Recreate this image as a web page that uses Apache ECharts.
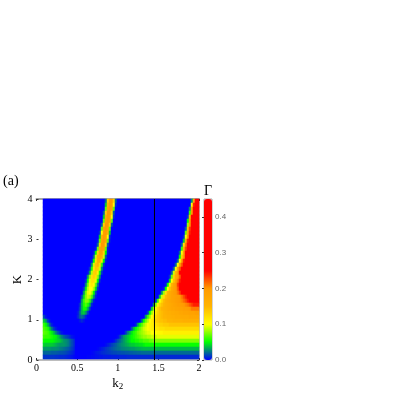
<!DOCTYPE html>
<html><head><meta charset="utf-8">
<style>html,body{margin:0;padding:0;background:#fff}#c{width:409px;height:400px}</style>
<script src="https://cdn.jsdelivr.net/npm/echarts@6/dist/echarts.min.js"></script>
</head><body><div id="c"></div>
<script>
// Heat-map cells. Rows run from the top (K=4) down; each
// entry is [row, first non-blue column, values...]; all other cells are 0.
const columnCount = 78;
const rowCount = 40;
const ridgeCells = [
[0,31,.02,.13,.2,.2,.13,.02],[1,31,.04,.16,.2,.19,.1,.01],[2,31,.07,.18,.2,.18,.07],[3,30,.02,.13,.2,.2,.13,.02],
[4,30,.04,.16,.2,.19,.1,.01],[5,30,.07,.18,.2,.18,.07],[6,29,.02,.13,.2,.2,.13,.02],[7,29,.07,.18,.2,.18,.07],
[8,28,.01,.1,.19,.2,.16,.04],[9,28,.04,.16,.2,.19,.1,.01],[10,27,.005,.07,.18,.2,.18,.07,.005],[11,27,.02,.13,.2,.2,.13,.02],
[12,26,.005,.07,.18,.19,.18,.07,.005],[13,25,.005,.05,.13,.18,.18,.13,.05,.005],[14,25,.02,.09,.16,.17,.16,.09,.02],
[15,24,.005,.05,.12,.16,.16,.12,.05,.005],[16,24,.03,.09,.14,.15,.125,.06,.012],[17,23,.01,.055,.115,.14,.135,.09,.03,.003],
[18,22,.003,.03,.085,.13,.135,.11,.055,.012],[19,22,.03,.08,.12,.13,.12,.08,.03],[20,21,.008,.05,.095,.12,.12,.095,.05,.008],
[21,21,.025,.07,.105,.115,.105,.07,.025],[22,20,.01,.045,.085,.1,.1,.085,.045,.01],[23,20,.03,.07,.095,.1,.085,.05,.015],
[24,19,.015,.045,.075,.09,.085,.065,.03,.006],[25,19,.03,.06,.075,.075,.06,.03,.006],[26,18,.008,.035,.055,.065,.055,.035,.008],
[27,18,.012,.035,.052,.052,.035,.012],[28,17,.004,.018,.035,.04,.03,.012],[29,17,.006,.017,.022,.017,.006],[30,18,.004,.008,.004]
];
const lobeCells = [
[29,0,.015,.004],[30,0,.04,.03,.012,.003],[31,0,.06,.05,.035,.018,.006,.001],
[32,0,.065,.06,.055,.04,.024,.012,.005,.001],[33,0,.068,.065,.062,.055,.048,.038,.026,.016,.009,.004,.001],
[34,0,.062,.06,.06,.058,.055,.05,.048,.04,.033,.026,.02,.015,.012,.008,.004,.002],
[35,0,.052,.05,.05,.05,.05,.048,.045,.042,.04,.035,.03,.028,.025,.02,.015,.01],
[36,0,.042,.04,.04,.04,.04,.038,.035,.032,.03,.03,.03,.028,.025,.02,.015,.01],
[37,0,.03,.03,.03,.03,.028,.028,.028,.027,.025,.024,.022,.02,.018,.015,.012,.008],
[38,0,.02,.02,.02,.02,.018,.018,.018,.017,.016,.016,.015,.014,.012,.01,.008,.005],
[39,0,.01,.01,.01,.01,.01,.01,.009,.009,.008,.008,.008,.007,.006,.005,.004,.002]
];
// In these rows the last value listed holds on to the right edge of the plot.
const wedgeCells = [
[0,74,.03,.18,.28,.32],[1,74,.1,.24,.3,.33],[2,73,.03,.18,.28,.32,.34],[3,73,.06,.2,.28,.32,.34],
[4,72,.01,.14,.25,.3,.33,.35],[5,72,.05,.18,.26,.31,.34,.35],[6,72,.08,.2,.27,.32,.34,.35],
[7,71,.02,.14,.23,.28,.32,.34,.35],[8,71,.07,.17,.24,.29,.33,.34,.35],[9,70,.01,.1,.2,.27,.32,.34,.35],
[10,70,.04,.16,.24,.29,.33,.35,.36],[11,69,.02,.12,.21,.27,.31,.34,.36],[12,69,.06,.15,.23,.28,.31,.34,.36],
[13,68,.02,.1,.18,.25,.29,.32,.34,.36],[14,68,.05,.13,.2,.26,.3,.32,.34,.36],[15,67,.02,.1,.18,.24,.28,.31,.33,.35,.36],
[16,66,.02,.1,.17,.22,.27,.3,.32,.34,.35,.36],[17,65,.02,.1,.17,.22,.27,.3,.32,.33,.34,.35],
[18,64,.02,.09,.15,.2,.25,.29,.31,.33,.33,.34],[19,63,.01,.07,.13,.17,.19,.22,.26,.29,.31,.32,.33],
[20,63,.04,.1,.14,.18,.21,.24,.27,.29,.3,.31,.32],[21,61,.005,.05,.11,.15,.18,.2,.23,.26,.28,.29,.3,.3,.31],
[22,60,.005,.05,.1,.14,.17,.185,.2,.22,.25,.27,.28,.29,.3],[23,59,.03,.08,.12,.15,.17,.18,.19,.2,.21,.23,.25,.26,.27,.28,.28,.28,.29],
[24,58,.04,.09,.12,.145,.16,.17,.18,.185,.19,.195,.2,.21,.225,.24,.25,.26,.265,.27],
[25,56,.01,.06,.1,.125,.145,.16,.17,.175,.18,.185,.19,.195,.2,.205,.215,.225,.24,.25,.255,.26],
[26,55,.03,.075,.105,.125,.14,.15,.16,.165,.17,.175,.18,.185,.19,.19,.195,.2,.205,.21,.22,.23,.24],
[27,54,.04,.08,.105,.125,.14,.15,.155,.16,.165,.17,.175,.175,.18,.18,.185,.185,.19,.19,.195,.2,.21],
[28,52,.01,.05,.08,.1,.115,.13,.14,.145,.15,.155,.16,.16,.165,.165,.17,.17,.175,.175,.18,.18,.18,.185,.185,.185,.19],
[29,51,.03,.06,.08,.1,.115,.125,.135,.14,.145,.15,.15,.155,.155,.16,.16,.165,.165,.165,.17,.17,.17,.17,.175],
[30,49,.02,.05,.07,.085,.1,.11,.12,.13,.135,.14,.14,.145,.145,.15,.15,.15,.155,.155,.155,.155,.155,.16],
[31,46,.005,.03,.05,.065,.08,.09,.1,.105,.11,.115,.12,.125,.13,.13,.135,.135,.135,.14],
[32,44,.015,.035,.05,.06,.07,.08,.09,.095,.1,.105,.11,.11,.115,.115,.12,.12,.12,.125],
[33,41,.01,.025,.035,.045,.055,.06,.07,.075,.08,.085,.09,.095,.095,.1,.1,.1,.105,.105,.105,.11],
[34,37,.002,.01,.02,.03,.035,.04,.045,.05,.055,.06,.065,.07,.075,.08,.08,.085,.085,.09,.09,.09,.095],
[35,35,.002,.008,.015,.02,.025,.03,.035,.04,.045,.05,.05,.055,.055,.06,.06,.065,.065,.065,.07,.07,.075],
[36,31,.002,.005,.008,.012,.015,.018,.022,.025,.028,.03,.033,.035,.038,.04,.04,.043,.043,.045,.045,.048,.052],
[37,27,.001,.003,.005,.007,.01,.012,.014,.016,.018,.02,.022,.023,.025,.026,.027,.028,.029,.03,.03,.032,.033,.034,.035,.036],
[38,24,.001,.002,.004,.005,.006,.008,.009,.01,.011,.012,.013,.014,.014,.015,.015,.016,.016,.017,.017,.018,.018,.019,.019,.02,.02,.021],
[39,22,.001,.001,.002,.002,.003,.003,.004,.004,.005,.005,.005,.005,.006,.006,.006,.006,.007,.007,.007,.007,.008]
];
const markerK2 = [1.452, 1.452];
const markerK = [0, 4];
const k2Range = [0, 2];
const kRange = [0, 4];
const gammaRange = [0, 0.45];
const gammaTicks = [0, 0.1, 0.2, 0.3, 0.4];
const gammaColors = ['#0000ff','#00ff00','#ffff00','#ffb400','#ff9a00','#ff0000','#ff0000','#ff0000','#ff0000','#ff0000'];

const grid = [];
for (let r = 0; r < rowCount; r++) grid.push(new Array(columnCount).fill(0));
[ridgeCells, lobeCells].forEach(list => list.forEach(e => {
  e.slice(2).forEach((v, i) => { grid[e[0]][e[1] + i] = v; });
}));
wedgeCells.forEach(e => {
  const vals = e.slice(2);
  for (let c = e[1]; c < columnCount; c++) grid[e[0]][c] = vals[Math.min(c - e[1], vals.length - 1)];
});
const cells = [];
grid.forEach((row, r) => row.forEach((v, c) => cells.push([c, r, v])));
const idx = n => Array.from({length: n}, (_, i) => i);

const serif = '"Liberation Serif"';
const gray = '#a8a8a8';
const chart = echarts.init(document.getElementById('c'), null, {renderer: 'canvas'});
chart.setOption({
  animation: false,
  backgroundColor: '#fff',
  title: [
    {text: '(a)', left: 3, top: 174, padding: 0, textStyle: {fontFamily: serif, fontSize: 14, fontWeight: 'normal', color: '#000'}},
    {text: 'Γ', left: 204, top: 184, padding: 0, textStyle: {fontFamily: serif, fontSize: 14, fontWeight: 'normal', color: '#000'}}
  ],
  grid: [
    {left: 43, top: 199, width: 156, height: 160},
    {left: 36.5, top: 199, width: 162.5, height: 161},
    {left: 204, top: 199, width: 8, height: 161, show: true, borderColor: gray, borderWidth: 1, backgroundColor: 'transparent'}
  ],
  xAxis: [
    {type: 'category', gridIndex: 0, data: idx(columnCount), show: false},
    {type: 'value', gridIndex: 1, min: k2Range[0], max: k2Range[1], interval: 0.5, position: 'bottom',
     name: '{k|k}{s|2}', nameLocation: 'middle', nameGap: 17,
     nameTextStyle: {rich: {k: {fontFamily: serif, fontSize: 13, color: '#000'}, s: {fontFamily: serif, fontSize: 9, color: '#000', verticalAlign: 'bottom', padding: [5, 0, 0, 0]}}},
     axisLine: {onZero: false, lineStyle: {color: gray, width: 1.5}},
     axisTick: {inside: true, length: 2, lineStyle: {color: '#333'}},
     axisLabel: {margin: 3, fontFamily: serif, fontSize: 10, color: '#000'}, splitLine: {show: false}},
    {type: 'value', gridIndex: 1, min: k2Range[0], max: k2Range[1], interval: 0.5, position: 'top',
     axisLine: {onZero: false, lineStyle: {color: gray, width: 2}},
     axisTick: {inside: true, length: 2, lineStyle: {color: '#333'}},
     axisLabel: {show: false}, splitLine: {show: false}},
    {type: 'value', gridIndex: 2, min: 0, max: 1, show: false}
  ],
  yAxis: [
    {type: 'category', gridIndex: 0, data: idx(rowCount), inverse: true, show: false},
    {type: 'value', gridIndex: 1, min: kRange[0], max: kRange[1], interval: 1, position: 'left',
     name: 'K', nameLocation: 'middle', nameGap: 12, nameRotate: 90,
     nameTextStyle: {fontFamily: serif, fontSize: 13, color: '#000'},
     axisLine: {show: false},
     axisTick: {show: true, inside: true, length: 2, lineStyle: {color: '#333'}},
     axisLabel: {margin: 4, fontFamily: serif, fontSize: 10, color: '#000'}, splitLine: {show: false}},
    {type: 'value', gridIndex: 1, min: kRange[0], max: kRange[1], interval: 1, position: 'right',
     axisLine: {show: true, onZero: false, lineStyle: {color: gray, width: 1.5}},
     axisTick: {show: true, inside: true, length: 2, lineStyle: {color: '#333'}},
     axisLabel: {show: false}, splitLine: {show: false}},
    {type: 'value', gridIndex: 2, min: gammaRange[0], max: gammaRange[1], position: 'right',
     axisLine: {show: false},
     axisTick: {show: true, inside: true, length: 2, customValues: gammaTicks, lineStyle: {color: '#333'}},
     axisLabel: {margin: 3, customValues: gammaTicks, fontFamily: '"Liberation Sans"', fontSize: 8, color: '#666', formatter: v => Number(v).toFixed(1)},
     splitLine: {show: false}}
  ],
  visualMap: {
    type: 'continuous', seriesIndex: 0, min: gammaRange[0], max: gammaRange[1],
    left: 204, top: 199, itemWidth: 8, itemHeight: 161, padding: 0, calculable: false, realtime: false,
    text: null, showLabel: false, hoverLink: false, z: 1,
    inRange: {color: gammaColors}
  },
  series: [
    {type: 'heatmap', xAxisIndex: 0, yAxisIndex: 0, data: cells, progressive: 0, silent: true, emphasis: {disabled: true}},
    {type: 'line', xAxisIndex: 1, yAxisIndex: 1, data: markerK2.map((x, i) => [x, markerK[i]]),
     symbol: 'none', silent: true, z: 5, lineStyle: {color: '#000', width: 1}}
  ]
});
</script></body></html>
